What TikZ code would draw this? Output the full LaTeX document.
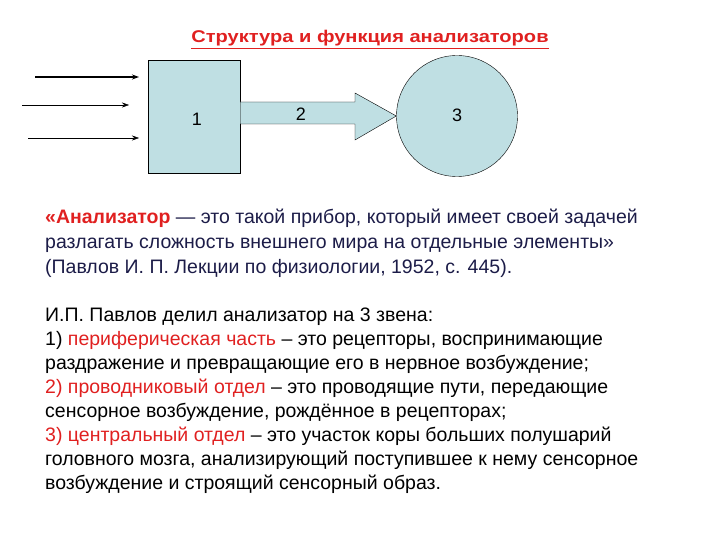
\documentclass[tikz,border=0pt]{standalone}
\usepackage{fontspec}
\setmainfont{Liberation Sans}
\usepackage{xcolor}
\usetikzlibrary{arrows.meta}
\definecolor{fillc}{HTML}{BFDFE3}
\definecolor{redt}{HTML}{E02020}
\definecolor{navy}{HTML}{1C1C48}
\begin{document}
\begin{tikzpicture}[x=1pt,y=-1pt,
  txt/.style={anchor=base west,inner sep=0pt,font=\fontsize{19.5}{22}\selectfont},
  inarr/.style={-{Stealth[length=7pt,width=5pt]}}]
\useasboundingbox (0,0) rectangle (720,540);
\node[txt,anchor=base,font=\fontsize{17}{20}\selectfont\bfseries,text=redt] (title) at (370,43) {\scalebox{1.18}[1]{\underline{Структура и функция анализаторов}}};
\node[draw,fill=fillc,minimum width=92pt,minimum height=113pt,inner sep=0pt] (b1) at (194,116.5) {};
\node[font=\fontsize{18}{20}\selectfont] (l1) at (197,119) {1};
\node[draw,fill=fillc,circle,minimum size=121pt,inner sep=0pt] (c3) at (457,116) {};
\node[font=\fontsize{18}{20}\selectfont] (l3) at (457,115) {3};
\draw[fill=fillc] (b1.east |- 0,102) -- (355,102) -- (355,93) -- (c3.west) -- (355,140) -- (355,124) -- (b1.east |- 0,124) -- cycle;
\node[font=\fontsize{18}{20}\selectfont] (l2) at (301,114) {2};
\coordinate (a1) at (35,77); \coordinate (a1e) at (139,77);
\coordinate (a2) at (22,105); \coordinate (a2e) at (129,105);
\coordinate (a3) at (28,138); \coordinate (a3e) at (139,138);
\draw[inarr,line width=1.3pt] (a1) -- (a1e);
\draw[inarr] (a2) -- (a2e);
\draw[inarr] (a3) -- (a3e);
\node[txt,text=navy] (t1) at (45,224) {\textcolor{redt}{\bfseries«Анализатор} — это такой прибор, который имеет своей задачей};
\node[txt,text=navy] (t2) at (45,248) {разлагать сложность внешнего мира на отдельные элементы»};
\node[txt,text=navy] (t3) at (45,273) {(Павлов И. П. Лекции по физиологии, 1952, с. 445).};
\node[txt] (t4) at (45,321) { И.П. Павлов делил анализатор на 3 звена:};
\node[txt] (t5) at (45,345) {1) \textcolor{redt}{периферическая часть} – это рецепторы, воспринимающие};
\node[txt] (t6) at (45,369) {раздражение и превращающие его в нервное возбуждение;};
\node[txt] (t7) at (45,393) {\textcolor{redt}{2) проводниковый отдел} – это проводящие пути, передающие};
\node[txt] (t8) at (45,417) {сенсорное возбуждение, рождённое в рецепторах;};
\node[txt] (t9) at (45,441) {\textcolor{redt}{3) центральный отдел} – это участок коры больших полушарий};
\node[txt] (t10) at (45,465) {головного мозга, анализирующий поступившее к нему сенсорное};
\node[txt] (t11) at (45,489) {возбуждение и строящий сенсорный образ.};
\end{tikzpicture}
\end{document}
